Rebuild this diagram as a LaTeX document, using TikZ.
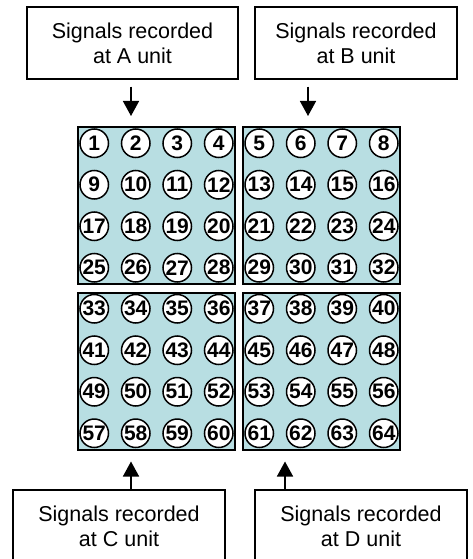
\documentclass[tikz,border=0pt]{standalone}
\usepackage{fontspec}
\setmainfont{Liberation Sans}
\usetikzlibrary{arrows.meta}
\definecolor{gridfill}{RGB}{184,222,226}
\begin{document}
\begin{tikzpicture}[x=1pt,y=-1pt,
  lbl/.style={draw, line width=1.3pt, minimum height=72pt, inner sep=0pt, align=center,
    font=\fontsize{21.5}{25}\selectfont},
  panel/.style={draw, line width=2pt, fill=gridfill, minimum size=157pt, inner sep=0pt},
  el/.style={circle, draw, line width=1.5pt, fill=white, minimum size=28.5pt, inner sep=0pt,
    font=\fontsize{21}{21}\bfseries\selectfont},
  arr/.style={-{Triangle[length=15pt,width=16pt]}, line width=1.5pt}]
\useasboundingbox (0,0) rectangle (473,559);
% label boxes
\node[lbl, minimum width=211pt] (A) at (132.5,43) {Signals recorded\\at A unit};
\node[lbl, minimum width=202pt] (B) at (356,43) {Signals recorded\\at B unit};
\node[lbl, minimum width=212pt] (C) at (119,526) {Signals recorded\\at C unit};
\node[lbl, minimum width=212pt] (D) at (361,526) {Signals recorded\\at D unit};
% panels
\node[panel] (gA) at (156.5,205.5) {};
\node[panel] (gB) at (321.5,205.5) {};
\node[panel] (gC) at (156.5,371) {};
\node[panel] (gD) at (321.5,371) {};
% electrodes
\foreach \r in {0,...,7}{
  \foreach \c in {0,...,7}{
    \pgfmathtruncatemacro{\n}{8*\r+\c+1}
    \pgfmathsetmacro{\px}{(\c<4 ? 156.5 : 321.5) + (mod(\c,4)-1.5)*41.5}
    \pgfmathsetmacro{\py}{(\r<4 ? 205.5 : 371) + (mod(\r,4)-1.5)*41.5}
    \node[el] (e\n) at (\px,\py) {\n};
  }
}
% arrows
\coordinate (xa) at (131,0);
\coordinate (xb) at (308,0);
\coordinate (xc) at (131,0);
\coordinate (xd) at (285,0);
\draw[arr, shorten <=7pt, shorten >=10pt] (A.south -| xa) -- (gA.north -| xa);
\draw[arr, shorten <=7pt, shorten >=10pt] (B.south -| xb) -- (gB.north -| xb);
\draw[arr, shorten >=11pt] (C.north -| xc) -- (gC.south -| xc);
\draw[arr, shorten >=11pt] (D.north -| xd) -- (gD.south -| xd);
\end{tikzpicture}
\end{document}
